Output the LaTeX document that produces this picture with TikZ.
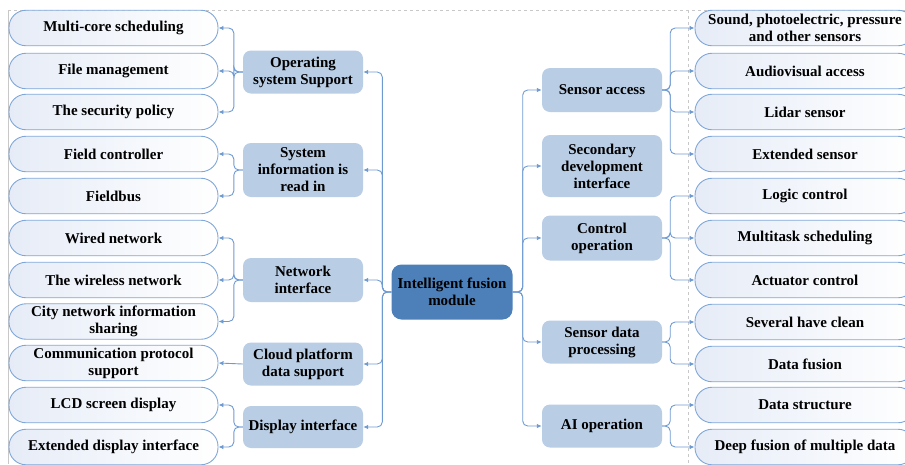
\documentclass[tikz,border=0pt]{standalone}
\usepackage{fontspec}
\setmainfont{Liberation Serif}
\usetikzlibrary{arrows.meta}

\definecolor{leafline}{HTML}{7FA7D9}
\definecolor{connblue}{HTML}{6E9AD2}
\definecolor{midblue}{HTML}{B9CDE5}
\definecolor{hubblue}{HTML}{4D7FB9}
\definecolor{leafshade}{HTML}{E6ECF7}
\definecolor{framegray}{HTML}{C8C8C8}

\tikzset{
  leaf/.style={draw=leafline, line width=0.9pt, rounded corners=17pt,
    minimum height=35.5pt, left color=leafshade, right color=white,
    align=center, inner sep=0pt, font=\fontsize{15}{17}\selectfont\bfseries},
  leftleaf/.style={leaf, minimum width=209pt},
  rightleaf/.style={leaf, minimum width=220pt},
  midbox/.style={fill=midblue, rounded corners=8pt, minimum width=120pt,
    align=center, inner sep=0pt, font=\fontsize{15}{17}\selectfont\bfseries},
  hub/.style={fill=hubblue, rounded corners=10pt, minimum width=121pt,
    minimum height=55pt, align=center, inner sep=0pt,
    font=\fontsize{15}{17}\selectfont\bfseries},
  conn/.style={draw=connblue, line width=0.9pt, rounded corners=5pt,
    -{Latex[length=5pt,width=4.5pt]}},
  frame/.style={draw=framegray, line width=0.6pt}
}

\begin{document}
\begin{tikzpicture}[x=1pt, y=-1pt]
\useasboundingbox (0,0) rectangle (905,464);
\clip (0,0) rectangle (905,464);

% outer frame and the dashed divider on the right
\draw[frame, dashed] (8,10) -- (905,10);
\draw[frame] (8,10) -- (8,464);
\draw[frame, dashed] (688,10) -- (688,464);

% central module
\node[hub] (hub) at (452,292) {Intelligent fusion\\module};

% left-hand groups
\node[midbox, minimum height=43pt] (os)  at (303,72)  {Operating\\system Support};
\node[midbox, minimum height=54pt] (si)  at (303,170) {System\\information is\\read in};
\node[midbox, minimum height=44pt] (ni)  at (303,280) {Network\\interface};
\node[midbox, minimum height=43pt] (cp)  at (303,364) {Cloud platform\\data support};
\node[midbox, minimum height=42pt] (di)  at (303,427) {Display interface};

% right-hand groups
\node[midbox, minimum height=44pt] (sa)  at (602,90)  {Sensor access};
\node[midbox, minimum height=62pt] (sd)  at (602,166) {Secondary\\development\\interface};
\node[midbox, minimum height=45pt] (co)  at (602,238) {Control\\operation};
\node[midbox, minimum height=43pt] (sp)  at (602,342) {Sensor data\\processing};
\node[midbox, minimum height=43pt] (ai)  at (602,426) {AI operation};

% left leaves
\node[leftleaf] (l1)  at (113.5,28)    {Multi-core scheduling};
\node[leftleaf] (l2)  at (113.5,71)    {File management};
\node[leftleaf] (l3)  at (113.5,112)   {The security policy};
\node[leftleaf] (l4)  at (113.5,154)   {Field controller};
\node[leftleaf] (l5)  at (113.5,196)   {Fieldbus};
\node[leftleaf] (l6)  at (113.5,238)   {Wired network};
\node[leftleaf] (l7)  at (113.5,280)   {The wireless network};
\node[leftleaf] (l8)  at (113.5,321.5) {City network information\\sharing};
\node[leftleaf] (l9)  at (113.5,363)   {Communication protocol\\support};
\node[leftleaf] (l10) at (113.5,405)   {LCD screen display};
\node[leftleaf] (l11) at (113.5,447)   {Extended display interface};

% right leaves
\node[rightleaf] (r1)  at (805,28)    {Sound, photoelectric, pressure\\and other sensors};
\node[rightleaf] (r2)  at (805,71)    {Audiovisual access};
\node[rightleaf] (r3)  at (805,112)   {Lidar sensor};
\node[rightleaf] (r4)  at (805,154)   {Extended sensor};
\node[rightleaf] (r5)  at (805,196)   {Logic control};
\node[rightleaf] (r6)  at (805,238)   {Multitask scheduling};
\node[rightleaf] (r7)  at (805,280)   {Actuator control};
\node[rightleaf] (r8)  at (805,322)   {Several have clean};
\node[rightleaf] (r9)  at (805,364)   {Data fusion};
\node[rightleaf] (r10) at (805,405)   {Data structure};
\node[rightleaf] (r11) at (805,447)   {Deep fusion of multiple data};

% hub to groups
\foreach \g in {os,si,ni,cp,di}
  \draw[conn] (hub.west) -- ++(-9,0) |- (\g.east);
\foreach \g in {sa,sd,co,sp,ai}
  \draw[conn] (hub.east) -- ++(10,0) |- (\g.west);

% groups to left leaves
\foreach \l in {l1,l2,l3}   \draw[conn] (os.west) -- ++(-9,0) |- (\l.east);
\foreach \l in {l4,l5}      \draw[conn] (si.west) -- ++(-9,0) |- (\l.east);
\foreach \l in {l6,l7,l8}   \draw[conn] (ni.west) -- ++(-9,0) |- (\l.east);
\draw[conn] (cp.west) -- (l9.east);
\foreach \l in {l10,l11}    \draw[conn] (di.west) -- ++(-9,0) |- (\l.east);

% groups to right leaves
\foreach \r in {r1,r2,r3,r4} \draw[conn] (sa.east) -- ++(8,0) |- (\r.west);
\foreach \r in {r5,r6,r7}    \draw[conn] (co.east) -- ++(8,0) |- (\r.west);
\foreach \r in {r8,r9}       \draw[conn] (sp.east) -- ++(8,0) |- (\r.west);
\foreach \r in {r10,r11}     \draw[conn] (ai.east) -- ++(8,0) |- (\r.west);
\end{tikzpicture}
\end{document}
